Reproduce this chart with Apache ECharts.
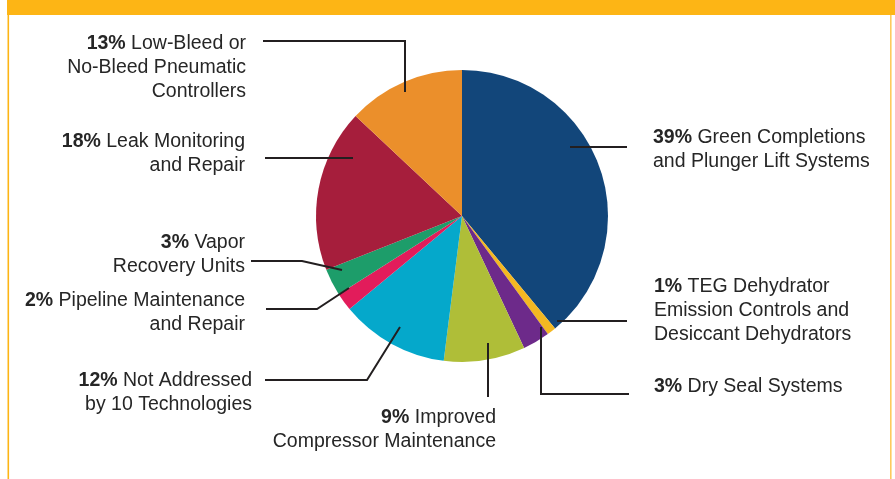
<!DOCTYPE html>
<html>
<head>
<meta charset="utf-8">
<script src="https://cdn.jsdelivr.net/npm/echarts@6/dist/echarts.min.js"></script>
<style>
  html, body { margin: 0; padding: 0; background: #fff; }
  #main { width: 895px; height: 479px; }
</style>
</head>
<body>
<div id="main"></div>
<script>
// slices, clockwise from 12 o'clock
var names = [
    'Green Completions\nand Plunger Lift Systems',
    'TEG Dehydrator\nEmission Controls and\nDesiccant Dehydrators',
    'Dry Seal Systems',
    'Improved\nCompressor Maintenance',
    'Not Addressed\nby 10 Technologies',
    'Pipeline Maintenance\nand Repair',
    'Vapor\nRecovery Units',
    'Leak Monitoring\nand Repair',
    'Low-Bleed or\nNo-Bleed Pneumatic\nControllers'
];
var shares = [39, 1, 3, 9, 12, 2, 3, 18, 13];
var colors = ['#12467a', '#f4b822', '#6d2a8a', '#afbe38', '#05a8cb',
              '#e21c5b', '#1d9d6a', '#a61e3c', '#eb8f2b'];

// where each label sits and how its leader runs (layout only)
var spots = [
    { x: 653, y: 126, align: 'left',  line: [[570, 147], [599, 147], [627, 147]] },
    { x: 654, y: 275, align: 'left',  line: [[557, 321], [592, 321], [627, 321]] },
    { x: 654, y: 375, align: 'left',  line: [[541, 327], [541, 394], [629, 394]] },
    { x: 496, y: 406, align: 'right', line: [[488, 343], [488, 370], [488, 397]] },
    { x: 252, y: 369, align: 'right', line: [[400, 327], [367, 380], [265, 380]] },
    { x: 245, y: 289, align: 'right', line: [[349, 288], [317, 309], [266, 309]] },
    { x: 245, y: 231, align: 'right', line: [[342, 270], [302, 261], [251, 261]] },
    { x: 245, y: 130, align: 'right', line: [[353, 158], [310, 158], [265, 158]] },
    { x: 246, y: 32,  align: 'right', line: [[405, 92], [405, 41], [263, 41]] }
];

var font = '"Liberation Sans", Arial, sans-serif';
var ink = '#262626';

var slices = [];
var labelled = [];
for (var i = 0; i < names.length; i++) {
    slices.push({
        name: names[i],
        value: shares[i],
        itemStyle: { color: colors[i] }
    });
    labelled.push({
        name: names[i],
        value: shares[i],
        label: {
            align: spots[i].align,
            rich: {
                p: { fontFamily: font, fontSize: 19.5, fontWeight: 'bold', color: ink, lineHeight: 24, align: spots[i].align },
                n: { fontFamily: font, fontSize: 19.5, color: ink, lineHeight: 24, align: spots[i].align }
            }
        }
    });
}

var myChart = echarts.init(document.getElementById('main'));

var option = {
    animation: false,
    backgroundColor: '#fff',
    // yellow frame round the figure
    graphic: [
        { type: 'rect', shape: { x: 7, y: 0, width: 888, height: 15 }, style: { fill: '#fdb515' }, silent: true },
        { type: 'rect', shape: { x: 7.5, y: 15, width: 1.6, height: 464 }, style: { fill: '#fdb515' }, silent: true },
        { type: 'rect', shape: { x: 890, y: 15, width: 1.6, height: 464 }, style: { fill: '#fdca5e' }, silent: true }
    ],
    series: [{
        // the coloured slices
        type: 'pie',
        z: 2,
        center: [462, 216],
        radius: 146,
        startAngle: 90,
        clockwise: true,
        silent: true,
        itemStyle: { borderWidth: 0 },
        label: { show: false },
        labelLine: { show: false },
        data: slices
    }, {
        // same slices again, see-through, only to carry labels and leaders above the pie
        type: 'pie',
        z: 5,
        center: [462, 216],
        radius: 146,
        startAngle: 90,
        clockwise: true,
        avoidLabelOverlap: false,
        silent: true,
        itemStyle: { color: 'rgba(0,0,0,0)', borderWidth: 0 },
        label: {
            show: true,
            position: 'outside',
            fontFamily: font,
            fontSize: 19.5,
            lineHeight: 24,
            color: ink,
            formatter: function (p) {
                var lines = p.name.split('\n');
                var out = '{p|' + p.value + '%} {n|' + lines[0] + '}';
                for (var k = 1; k < lines.length; k++) {
                    out += '\n{n|' + lines[k] + '}';
                }
                return out;
            }
        },
        labelLine: {
            show: true,
            showAbove: true,
            smooth: false,
            lineStyle: { color: '#231f20', width: 2 }
        },
        labelLayout: function (params) {
            var s = spots[params.dataIndex];
            return {
                x: s.x,
                y: s.y,
                align: s.align,
                verticalAlign: 'top',
                labelLinePoints: s.line
            };
        },
        data: labelled
    }]
};

myChart.setOption(option);
</script>
</body>
</html>
